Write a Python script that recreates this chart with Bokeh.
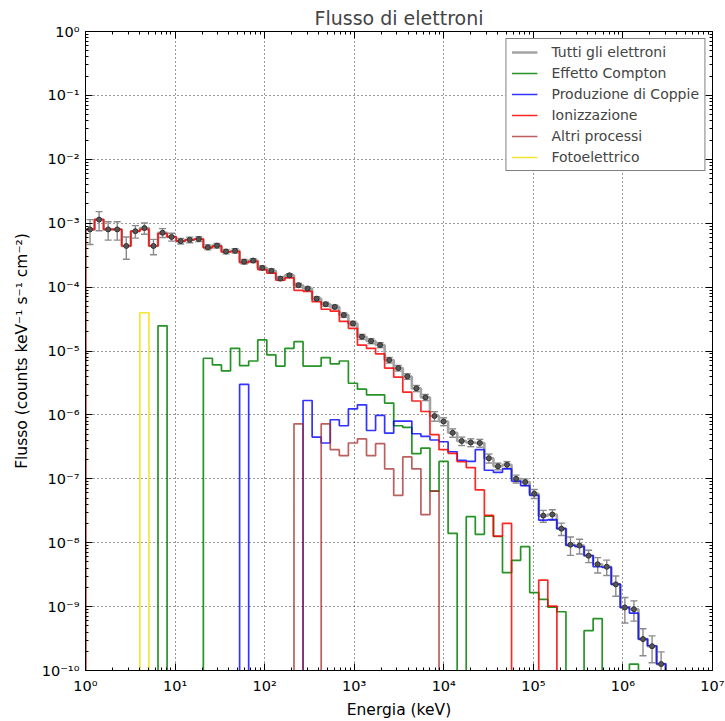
import numpy as np
from bokeh.plotting import figure
from bokeh.models import (ColumnDataSource, LogAxis, FixedTicker, CustomJSTickFormatter,
                          Legend, LegendItem, Whisker, TeeHead)
from bokeh.embed import file_html
from bokeh.resources import INLINE

# ---------------- data ----------------
# 64 logarithmic energy bins from 1 keV to 3e6 keV
N_BINS = 64
E_MIN, E_MAX = 1.0, 3.0e6

total = [8.0e-4, 1.14e-3, 8.0e-4, 8.0e-4, 4.4e-4, 7.5e-4, 8.4e-4, 4.4e-4, 7.1e-4, 6.1e-4,
         5.25e-4, 5.5e-4, 5.65e-4, 4.2e-4, 4.45e-4, 3.6e-4, 3.7e-4, 2.5e-4, 2.6e-4, 2.0e-4,
         1.8e-4, 1.36e-4, 1.53e-4, 1.07e-4, 9.5e-5, 6.6e-5, 5.4e-5, 4.9e-5, 3.65e-5, 2.7e-5,
         1.67e-5, 1.43e-5, 1.24e-5, 7.2e-6, 5.4e-6, 4.0e-6, 2.6e-6, 1.88e-6, 9.6e-7, 7.9e-7,
         5.25e-7, 3.9e-7, 3.7e-7, 3.63e-7, 2.1e-7, 1.57e-7, 1.66e-7, 1.0e-7, 8.9e-8, 5.85e-8,
         2.65e-8, 2.76e-8, 1.66e-8, 9.3e-9, 9.0e-9, 6.25e-9, 4.6e-9, 4.2e-9, 2.23e-9, 9.7e-10,
         9.1e-10, 3.1e-10, 2.4e-10, 1.26e-10]

total_rel_err = [0.42, 0.33, 0.32, 0.32, 0.38, 0.22, 0.20, 0.27, 0.16, 0.14,
                 0.10, 0.10, 0.09, 0.09, 0.08, 0.08, 0.08, 0.08, 0.07, 0.07,
                 0.07, 0.07, 0.06, 0.07, 0.06, 0.07, 0.07, 0.07, 0.08, 0.08,
                 0.09, 0.09, 0.09, 0.10, 0.10, 0.10, 0.11, 0.11, 0.17, 0.14,
                 0.15, 0.15, 0.14, 0.14, 0.16, 0.12, 0.12, 0.14, 0.12, 0.16,
                 0.21, 0.19, 0.22, 0.32, 0.26, 0.22, 0.27, 0.27, 0.35, 0.43,
                 0.35, 0.45, 0.45, 0.55]

compton = [0, 0, 0, 0, 0, 0, 0, 0, 2.48e-5, 0,
           0, 0, 0, 7.7e-6, 6.05e-6, 4.88e-6, 1.1e-5, 5.9e-6, 6.98e-6, 1.49e-5,
           8.7e-6, 5.8e-6, 1.1e-5, 1.4e-5, 5.8e-6, 5.8e-6, 7.9e-6, 6.3e-6, 6.98e-6, 3.13e-6,
           2.53e-6, 2.06e-6, 2.06e-6, 1.53e-6, 6.76e-7, 6.36e-7, 2.47e-7, 3.03e-7, 6.4e-8, 1.87e-7,
           1.4e-8, 0, 2.55e-8, 1.35e-8, 2.6e-8, 1.25e-8, 3.4e-9, 5.3e-9, 8.65e-9, 1.66e-9,
           1.3e-9, 9.8e-10, 8.3e-10, 0, 0, 4.2e-10, 6.5e-10, 0, 0, 0,
           1.26e-10, 0, 0, 0]

coppie = [0, 0, 0, 0, 0, 0, 0, 0, 0, 0,
          0, 0, 0, 0, 0, 0, 0, 3.0e-6, 0, 0,
          0, 0, 0, 0, 1.68e-6, 4.5e-7, 3.63e-7, 8.4e-7, 6.76e-7, 1.24e-6,
          1.44e-6, 5.7e-7, 9.8e-7, 5.2e-7, 8.0e-7, 8.0e-7, 5.07e-7, 4.6e-7, 4.05e-7, 3.8e-7,
          2.65e-7, 1.95e-7, 1.88e-7, 2.86e-7, 1.36e-7, 1.26e-7, 1.43e-7, 9.2e-8, 7.8e-8, 5.5e-8,
          2.25e-8, 2.3e-8, 1.66e-8, 9.1e-9, 8.7e-9, 6.3e-9, 4.2e-9, 4.1e-9, 2.24e-9, 9.7e-10,
          7.9e-10, 3.1e-10, 2.44e-10, 1.27e-10]

ionizzazione = [8.0e-4, 1.14e-3, 8.0e-4, 8.0e-4, 4.4e-4, 7.5e-4, 8.0e-4, 4.4e-4, 6.85e-4, 6.1e-4,
                5.25e-4, 5.5e-4, 5.65e-4, 4.12e-4, 4.39e-4, 3.55e-4, 3.59e-4, 2.41e-4, 2.53e-4, 1.88e-4,
                1.66e-4, 1.28e-4, 1.39e-4, 8.9e-5, 8.6e-5, 5.9e-5, 4.5e-5, 4.2e-5, 2.9e-5, 2.26e-5,
                1.24e-5, 1.1e-5, 9.0e-6, 5.4e-6, 3.9e-6, 2.27e-6, 1.65e-6, 1.13e-6, 4.9e-7, 2.86e-7,
                2.5e-7, 1.85e-7, 1.5e-7, 6.7e-8, 2.67e-8, 1.27e-8, 2.0e-8, 0, 0, 0,
                2.6e-9, 1.02e-9, 0, 0, 0, 0, 0, 0, 0, 0,
                0, 0, 0, 0]

altri = [0, 0, 0, 0, 0, 0, 0, 0, 0, 0,
         0, 0, 0, 0, 0, 0, 0, 0, 0, 0,
         0, 0, 0, 7.26e-7, 0, 0, 7.26e-7, 2.86e-7, 2.3e-7, 3.63e-7,
         4.2e-7, 2.3e-7, 3.55e-7, 1.43e-7, 5.5e-8, 2.2e-7, 1.43e-7, 2.76e-8, 6.4e-8, 0,
         0, 0, 0, 0, 0, 0, 0, 0, 0, 0,
         0, 0, 0, 0, 0, 0, 0, 0, 0, 0,
         0, 0, 0, 0]

fotoelettrico = [0, 0, 0, 0, 0, 0, 3.97e-5, 0, 0, 0] + [0] * 54

x_ticks = [1e0, 1e1, 1e2, 1e3, 1e4, 1e5, 1e6, 1e7]
y_ticks = [1e-10, 1e-9, 1e-8, 1e-7, 1e-6, 1e-5, 1e-4, 1e-3, 1e-2, 1e-1, 1e0]

series_names = ["Tutti gli elettroni", "Effetto Compton", "Produzione di Coppie",
                "Ionizzazione", "Altri processi", "Fotoelettrico"]

# ---------------- helpers ----------------
edges = np.logspace(np.log10(E_MIN), np.log10(E_MAX), N_BINS + 1)
centers = np.sqrt(edges[:-1] * edges[1:])
FLOOR = 1e-14  # empty bins drop below the axis, like a step histogram


def step_xy(vals):
    xs = [edges[0]]
    ys = [FLOOR]
    for k, v in enumerate(vals):
        y = v if v > 0 else FLOOR
        xs += [edges[k], edges[k + 1]]
        ys += [y, y]
    xs.append(edges[-1])
    ys.append(FLOOR)
    return xs, ys


def minor_list(ticks):
    out = []
    for t in ticks[:-1]:
        out += [t * m for m in range(2, 10)]
    return out


FONT = "DejaVu Sans"

p = figure(width=725, height=721, x_axis_type="log", y_axis_type="log",
           x_range=(1, 1e7), y_range=(1e-10, 1),
           output_backend="svg", toolbar_location=None,
           min_border_left=85, min_border_right=13, min_border_top=31, min_border_bottom=49,
           title="Flusso di elettroni")

p.title.text_font = FONT
p.title.text_font_size = "19px"
p.title.text_font_style = "normal"
p.title.align = "center"
p.title.standoff = 6

p.outline_line_color = "black"
p.outline_line_width = 1
p.background_fill_color = "white"
p.border_fill_color = "white"

sup_fmt = CustomJSTickFormatter(code="""
const e = Math.round(Math.log10(tick));
const sup = {'0':'\u2070','1':'\u00b9','2':'\u00b2','3':'\u00b3','4':'\u2074','5':'\u2075',
             '6':'\u2076','7':'\u2077','8':'\u2078','9':'\u2079','-':'\u207b'};
return '10' + String(e).split('').map(c => sup[c]).join('');
""")
blank_fmt = CustomJSTickFormatter(code="return '';")

x_ticker = FixedTicker(ticks=x_ticks, minor_ticks=minor_list(x_ticks))
y_ticker = FixedTicker(ticks=y_ticks, minor_ticks=minor_list(y_ticks))


def style_axis(ax, ticker, fmt):
    ax.ticker = ticker
    ax.formatter = fmt
    ax.major_tick_in = 7
    ax.major_tick_out = 0
    ax.minor_tick_in = 3
    ax.minor_tick_out = 0
    ax.axis_line_color = "black"
    ax.major_tick_line_color = "black"
    ax.minor_tick_line_color = "black"
    ax.major_label_text_font = FONT
    ax.major_label_text_font_size = "14.5px"
    ax.major_label_text_color = "black"
    ax.axis_label_text_font = FONT
    ax.axis_label_text_font_size = "15.5px"
    ax.axis_label_text_font_style = "normal"
    ax.axis_label_text_color = "black"


xa = p.xaxis[0]
ya = p.yaxis[0]
style_axis(xa, x_ticker, sup_fmt)
style_axis(ya, y_ticker, sup_fmt)
xa.axis_label = "Energia (keV)"
ya.axis_label = "Flusso (counts keV\u207b\u00b9 s\u207b\u00b9 cm\u207b\u00b2)"
xa.major_label_standoff = 7
xa.axis_label_standoff = 4
ya.major_label_standoff = 6
ya.axis_label_standoff = 8

top = LogAxis()
right = LogAxis()
for ax, tk in ((top, x_ticker), (right, y_ticker)):
    style_axis(ax, tk, blank_fmt)
    ax.major_label_standoff = 0
    ax.major_label_text_font_size = "0px"
p.add_layout(top, "above")
p.add_layout(right, "right")

for g, tk in ((p.xgrid[0], x_ticker), (p.ygrid[0], y_ticker)):
    g.ticker = tk
    g.grid_line_color = "black"
    g.grid_line_alpha = 0.8
    g.grid_line_width = 1
    g.grid_line_dash = "1 3"

# ---------------- histograms ----------------
styles = [
    (total, "#a3a3a3", 2.6, 1.0),
    (compton, "#008000", 1.7, 0.85),
    (coppie, "#0000ff", 1.7, 0.8),
    (ionizzazione, "#ff0000", 1.7, 0.85),
    (altri, "#a52a2a", 1.7, 0.75),
    (fotoelettrico, "#f5e10f", 1.7, 0.85),
]

renderers = []
for vals, col, lw, alpha in styles:
    xs, ys = step_xy(vals)
    r = p.line(xs, ys, line_color=col, line_width=lw, line_alpha=alpha)
    renderers.append(r)

# error bars and markers for the total
tot = np.array(total)
rel = np.array(total_rel_err)
src = ColumnDataSource(dict(x=centers, y=tot, upper=tot * (1 + rel), lower=tot * (1 - rel)))
whisk = Whisker(source=src, base="x", upper="upper", lower="lower", dimension="height",
                line_color="#8a8a8a", line_width=1.4,
                upper_head=TeeHead(size=7, line_color="#8a8a8a", line_width=1.4),
                lower_head=TeeHead(size=7, line_color="#8a8a8a", line_width=1.4))
p.add_layout(whisk)
p.scatter("x", "y", source=src, marker="circle", size=5,
          fill_color="#555555", line_color="#333333", line_width=1)

legend = Legend(items=[LegendItem(label=n, renderers=[r]) for n, r in zip(series_names, renderers)],
                location="top_right")
legend.label_text_font = FONT
legend.label_text_font_size = "14px"
legend.glyph_width = 26
legend.glyph_height = 16
legend.label_height = 16
legend.label_standoff = 14
legend.spacing = 5
legend.padding = 5
legend.margin = 7
legend.border_line_color = "black"
legend.border_line_width = 1
legend.background_fill_color = "white"
legend.background_fill_alpha = 1
p.add_layout(legend)

open("out.html", "w").write(file_html(p, INLINE))
